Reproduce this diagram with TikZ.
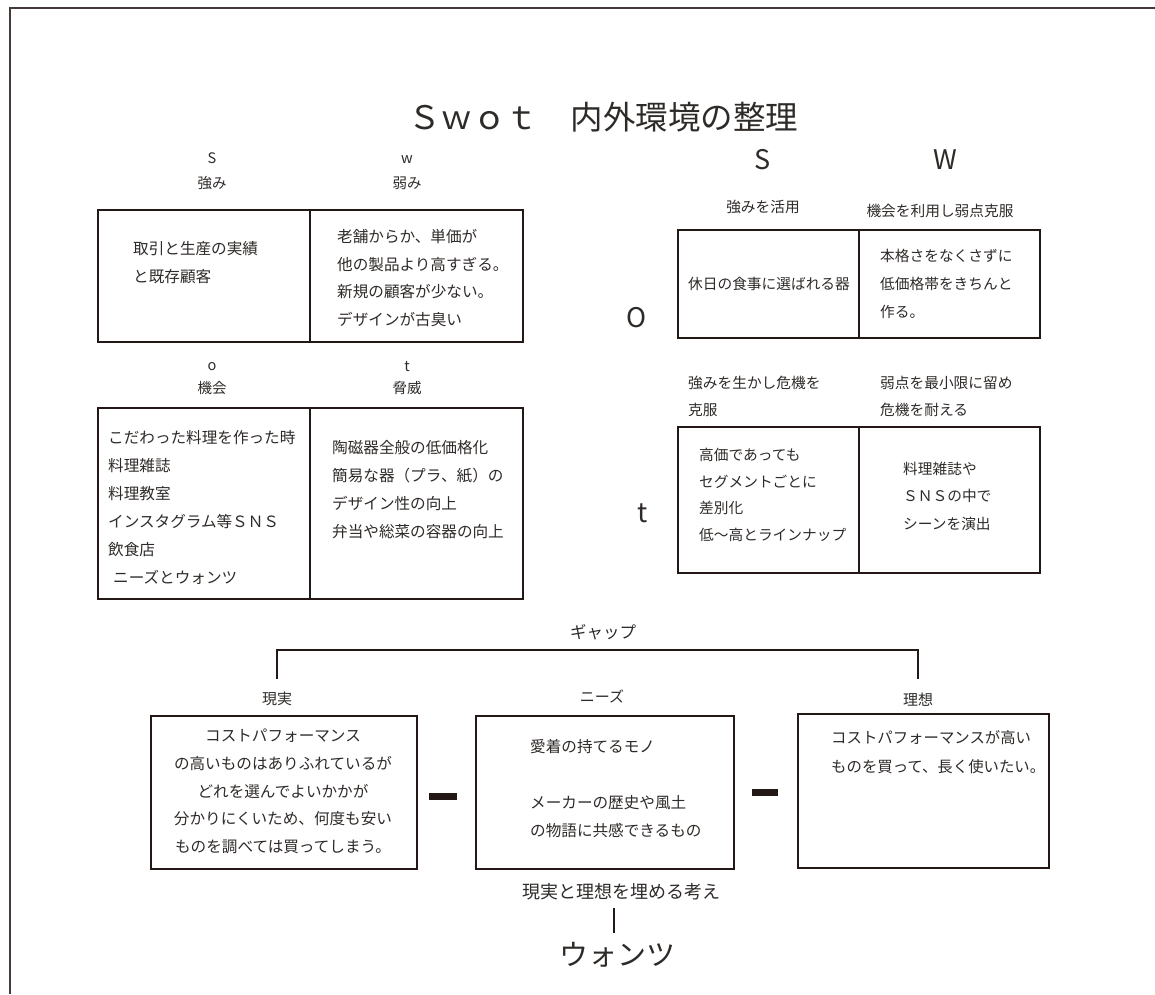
\documentclass[tikz,border=0pt]{standalone}
\usepackage{fontspec}
\setmainfont{Noto Sans CJK JP}
\definecolor{ink}{HTML}{231815}
\definecolor{txt}{HTML}{2E2A28}
\begin{document}
\begin{tikzpicture}[x=1pt,y=-1pt,
  box/.style={draw=ink,line width=1.8pt,anchor=north west,inner sep=0pt},
  frame/.style={draw=ink!85,line width=1.3pt},
  cell/.style={text=txt,font=\fontsize{15.6}{28}\selectfont,inner sep=0pt,align=left,anchor=west},
  rcell/.style={cell,font=\fontsize{14.7}{28}\selectfont},
  ccell/.style={text=txt,font=\fontsize{15.6}{27.75}\selectfont,inner sep=0pt,align=center},
  hdr/.style={text=txt,font=\fontsize{14.5}{14.5}\selectfont,inner sep=0pt},
  lbl/.style={text=txt,font=\fontsize{14.7}{27}\selectfont,inner sep=0pt},
  big/.style={text=txt,font=\fontsize{27}{27}\selectfont,inner sep=0pt},
  bar/.style={fill=ink,inner sep=0pt,minimum width=28pt,minimum height=7pt},
  link/.style={draw=ink,line width=1.8pt}]
\useasboundingbox (0,0) rectangle (1155,994);
% frame
\coordinate (fa) at (10,994);
\coordinate (fb) at (10,8);
\coordinate (fc) at (1155,8);
\draw[frame] (fa) -- (fb) -- (fc);
% title
\node[text=txt,font=\fontsize{32.5}{32.5}\selectfont,inner sep=0pt] (title) at (603,117) {Ｓｗｏｔ　内外環境の整理};
% left table 1
\node[hdr] (hS) at (212,158) {S};
\node[hdr] (hS2) at (212,183) {強み};
\node[hdr] (hW) at (407,160) {w};
\node[hdr] (hW2) at (407,183) {弱み};
\node[box,minimum width=212pt,minimum height=132pt] (cS) at (97,209) {};
\node[box,minimum width=213pt,minimum height=132pt] (cW) at (309,209) {};
\node[cell] (tS) at (133,263) {取引と生産の実績\\と既存顧客};
\node[cell,font=\fontsize{15.6}{27.5}\selectfont] (tW) at (337,278) {老舗からか、単価が\\他の製品より高すぎる。\\新規の顧客が少ない。\\デザインが古臭い};
% left table 2
\node[hdr] (hO) at (212,367) {o};
\node[hdr] (hO2) at (212,388) {機会};
\node[hdr] (hT) at (407,367) {t};
\node[hdr] (hT2) at (407,388) {脅威};
\node[box,minimum width=212pt,minimum height=191pt] (cO) at (97,407) {};
\node[box,minimum width=213pt,minimum height=191pt] (cT) at (309,407) {};
\node[cell] (tO) at (108,507) {こだわった料理を作った時\\料理雑誌\\料理教室\\インスタグラム等ＳＮＳ\\飲食店\\\hspace{5pt}ニーズとウォンツ};
\node[cell] (tT) at (332,490) {陶磁器全般の低価格化\\簡易な器（プラ、紙）の\\デザイン性の向上\\弁当や総菜の容器の向上};
% right matrix
\node[big] (RS) at (763,160) {S};
\node[big] (RW) at (945,160) {W};
\node[big] (RO) at (637,318) {O};
\node[big] (RT) at (643,513) {t};
\node[lbl] (hSO) at (763,207) {強みを活用};
\node[lbl] (hWO) at (940,211) {機会を利用し弱点克服};
\node[box,minimum width=181pt,minimum height=108pt] (cSO) at (677,229) {};
\node[box,minimum width=181pt,minimum height=108pt] (cWO) at (858,229) {};
\node[text=txt,font=\fontsize{14.7}{28}\selectfont,inner sep=0pt] (tSO) at (769,284) {休日の食事に選ばれる器};
\node[rcell] (tWO) at (880,284) {本格さをなくさずに\\低価格帯をきちんと\\作る。};
\node[lbl,align=left,anchor=west] (hST) at (688,396.5) {強みを生かし危機を\\克服};
\node[lbl,align=left,anchor=west] (hWT) at (880,396.5) {弱点を最小限に留め\\危機を耐える};
\node[box,minimum width=181pt,minimum height=146pt] (cST) at (677,426) {};
\node[box,minimum width=181pt,minimum height=146pt] (cWT) at (858,426) {};
\node[rcell,font=\fontsize{14.7}{26.7}\selectfont] (tST) at (699,495) {高価であっても\\セグメントごとに\\差別化\\低～高とラインナップ};
\node[rcell,font=\fontsize{14.7}{27.5}\selectfont] (tWT) at (903,496) {料理雑誌や\\ＳＮＳの中で\\シーンを演出};
% bottom
\node[lbl,font=\fontsize{16.5}{16.5}\selectfont] (gap) at (603,632) {ギャップ};
\coordinate (gL) at (277,679);
\coordinate (gR) at (918,679);
\draw[link] (gL) |- (600,650) -| (gR);
\node[lbl,font=\fontsize{15}{15}\selectfont] (hReal) at (277,699) {現実};
\node[lbl,font=\fontsize{15}{15}\selectfont] (hNeeds) at (602,696) {ニーズ};
\node[lbl,font=\fontsize{15}{15}\selectfont] (hIdeal) at (918,700) {理想};
\node[box,minimum width=266pt,minimum height=153pt] (bReal) at (150,715) {};
\node[box,minimum width=258pt,minimum height=153pt] (bNeeds) at (475,715) {};
\node[box,minimum width=251pt,minimum height=154pt] (bIdeal) at (797,713) {};
\node[ccell] (tReal) at (283,791.5) {コストパフォーマンス\\の高いものはありふれているが\\どれを選んでよいかかが\\分かりにくいため、何度も安い\\ものを調べては買ってしまう。};
\node[cell,font=\fontsize{15.6}{27.7}\selectfont] (tNeeds) at (530,788.5) {愛着の持てるモノ\\[27.7pt]メーカーの歴史や風土\\の物語に共感できるもの};
\node[cell,font=\fontsize{15.4}{29}\selectfont] (tIdeal) at (831,752.5) {コストパフォーマンスが高い\\ものを買って、長く使いたい。};
\node[bar] (m1) at (442.5,796) {};
\node[bar,minimum width=26pt] (m2) at (765,792) {};
\node[lbl,font=\fontsize{18}{18}\selectfont] (kangae) at (621,892) {現実と理想を埋める考え};
\node[big,font=\fontsize{29}{29}\selectfont] (wants) at (617,955) {ウォンツ};
\coordinate (k1) at (614,908);
\coordinate (k2) at (614,933);
\draw[link,line width=1.6pt] (k1) -- (k2);
\end{tikzpicture}
\end{document}
